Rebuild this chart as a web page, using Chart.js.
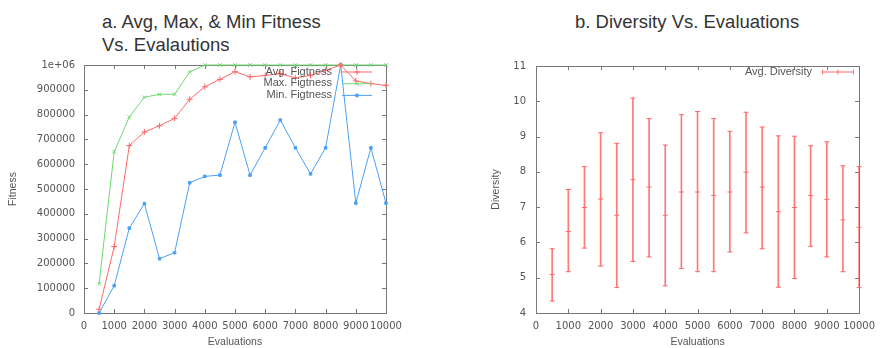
<!DOCTYPE html>
<html>
<head>
<meta charset="utf-8">
<script src="https://cdn.jsdelivr.net/npm/chart.js@4.4.1/dist/chart.umd.min.js"></script>
<style>
  html, body { margin: 0; padding: 0; background: #fff; }
  #wrap { position: relative; width: 882px; height: 348px; overflow: hidden; }
  .ttl { position: absolute; font: 18.5px "Liberation Sans", Arial, sans-serif; color: #333; line-height: 23px; white-space: nowrap; }
  .box { position: absolute; top: 50px; width: 441px; height: 298px; }
</style>
</head>
<body>
<div id="wrap">
  <div class="ttl" style="left:102px; top:10px;">a. Avg, Max, &amp; Min Fitness<br>Vs. Evalautions</div>
  <div class="ttl" style="left:575px; top:10px;">b. Diversity Vs. Evaluations</div>
  <div class="box" style="left:0;"><canvas id="fit"></canvas></div>
  <div class="box" style="left:441px;"><canvas id="div"></canvas></div>
</div>
<script>
// evaluations (x values shared by both charts)
const evals = [500, 1000, 1500, 2000, 2500, 3000, 3500, 4000, 4500, 5000,
               5500, 6000, 6500, 7000, 7500, 8000, 8500, 9000, 9500, 10000];

// chart a: fitness
const avgFitness = [15000, 268000, 675000, 730000, 755000, 785000, 862000, 912000, 942000, 973000,
                    952000, 958000, 965000, 948000, 958000, 978000, 1000000, 936000, 925000, 918000];
const maxFitness = [118000, 650000, 790000, 870000, 882000, 882000, 972000, 1000000, 1000000, 1000000,
                    1000000, 1000000, 1000000, 1000000, 1000000, 1000000, 1000000, 1000000, 1000000, 1000000];
const minFitness = [0, 110000, 342000, 441000, 219000, 243000, 525000, 551000, 556000, 769000,
                    556000, 666000, 778000, 666000, 561000, 666000, 1000000, 443000, 666000, 443000];

// chart b: diversity (mean with low/high whiskers)
const divMean = [5.09, 6.31, 6.99, 7.23, 6.77, 7.78, 7.57, 6.77, 7.43, 7.43,
                 7.33, 7.43, 7.99, 7.57, 6.87, 6.99, 7.33, 7.22, 6.64, 6.43];
const divLow  = [4.34, 5.17, 5.84, 5.33, 4.72, 5.46, 5.59, 4.77, 5.26, 5.17,
                 5.17, 5.73, 6.27, 5.82, 4.73, 4.98, 5.89, 5.59, 5.17, 4.72];
const divHigh = [5.82, 7.50, 8.15, 9.11, 8.81, 10.09, 9.51, 8.76, 9.62, 9.71,
                 9.51, 9.15, 9.69, 9.27, 9.02, 9.01, 8.74, 8.85, 8.17, 8.15];

const RED = 'rgb(255,105,105)';
const GREEN = 'rgb(110,215,110)';
const BLUE = 'rgb(75,160,245)';
const tickFont = { family: 'DejaVu Sans', size: 10 };
const labFont = { family: 'Liberation Sans', size: 10.5 };

Chart.defaults.animation = false;
Chart.defaults.color = '#555';

const pts = ys => evals.map((x, i) => ({ x, y: ys[i] }));

// gnuplot-like box with inward ticks on all four sides
const frame = {
  id: 'frame',
  beforeDatasetsDraw(chart) {
    const { ctx, chartArea: a, scales } = chart;
    ctx.save();
    ctx.strokeStyle = '#777';
    ctx.lineWidth = 1;
    ctx.strokeRect(Math.round(a.left) + 0.5, Math.round(a.top) + 0.5, Math.round(a.width), Math.round(a.height));
    ctx.beginPath();
    scales.x.ticks.forEach(t => {
      const px = Math.round(scales.x.getPixelForValue(t.value)) + 0.5;
      ctx.moveTo(px, a.bottom); ctx.lineTo(px, a.bottom - 4);
      ctx.moveTo(px, a.top); ctx.lineTo(px, a.top + 4);
    });
    scales.y.ticks.forEach(t => {
      const py = Math.round(scales.y.getPixelForValue(t.value)) + 0.5;
      ctx.moveTo(a.left, py); ctx.lineTo(a.left + 4, py);
      ctx.moveTo(a.right, py); ctx.lineTo(a.right - 4, py);
    });
    ctx.stroke();
    ctx.restore();
  }
};

// legend inside the plot: text right-aligned, sample line to its right
const inset = {
  id: 'inset',
  afterDatasetsDraw(chart, args, opts) {
    if (!opts.items) return;
    const ctx = chart.ctx;
    ctx.save();
    ctx.font = '11px "Liberation Sans"';
    ctx.textAlign = 'right';
    ctx.textBaseline = 'middle';
    opts.items.forEach((it, i) => {
      const y = opts.top + i * opts.gap;
      ctx.fillStyle = '#555';
      ctx.fillText(it.text, opts.textRight, y);
      const x0 = opts.lineLeft, x1 = opts.lineLeft + opts.lineLen, xm = (x0 + x1) / 2;
      ctx.strokeStyle = it.color;
      ctx.fillStyle = it.color;
      ctx.lineWidth = 1;
      ctx.beginPath();
      ctx.moveTo(x0, y + 0.5); ctx.lineTo(x1, y + 0.5);
      if (it.bars) {
        [x0, xm, x1].forEach(x => { ctx.moveTo(x + 0.5, y - 2); ctx.lineTo(x + 0.5, y + 3); });
      }
      ctx.stroke();
      if (it.style) {
        Chart.helpers.drawPoint(ctx, { pointStyle: it.style, radius: it.radius || 3, rotation: 0, borderWidth: 1 }, xm, y + 0.5);
      }
    });
    ctx.restore();
  }
};

function lineSet(label, ys, color, style, radius) {
  return {
    label, data: pts(ys), borderColor: color, backgroundColor: color,
    borderWidth: 1, pointStyle: style, pointRadius: radius, pointBorderWidth: 1,
    tension: 0, clip: 8
  };
}

const plainTick = v => String(v);

new Chart(document.getElementById('fit'), {
  type: 'line',
  data: {
    datasets: [
      lineSet('Avg. Figtness', avgFitness, RED, 'cross', 3),
      lineSet('Max. Figtness', maxFitness, GREEN, 'crossRot', 2.5),
      lineSet('Min. Figtness', minFitness, BLUE, 'rect', 1.8)
    ]
  },
  options: {
    responsive: true,
    maintainAspectRatio: false,
    layout: { padding: { top: 13, right: 55, left: 0, bottom: 0 } },
    plugins: {
      legend: { display: false },
      tooltip: { enabled: false },
      inset: {
        top: 21.5, gap: 11.7, textRight: 332, lineLeft: 342, lineLen: 30,
        items: [
          { text: 'Avg. Figtness', color: RED, style: 'cross', radius: 3 },
          { text: 'Max. Figtness', color: GREEN, style: 'crossRot', radius: 2.5 },
          { text: 'Min. Figtness', color: BLUE, style: 'rect', radius: 1.8 }
        ]
      }
    },
    scales: {
      x: {
        type: 'linear', min: 0, max: 10000,
        grid: { display: false, drawTicks: false }, border: { display: false },
        ticks: { stepSize: 1000, autoSkip: false, maxRotation: 0, font: tickFont, padding: 7, callback: plainTick },
        title: { display: true, text: 'Evaluations', font: labFont, padding: { top: 2, bottom: 0 } },
        afterFit(s) { s.height = 35; }
      },
      y: {
        min: 0, max: 1000000,
        grid: { display: false, drawTicks: false }, border: { display: false },
        ticks: {
          stepSize: 100000, font: tickFont, padding: 9,
          callback: v => v === 1000000 ? '1e+06' : String(v)
        },
        title: { display: true, text: 'Fitness', font: labFont, padding: { top: 7, bottom: 0 } },
        afterFit(s) { s.width = 84; }
      }
    }
  },
  plugins: [frame, inset]
});

new Chart(document.getElementById('div'), {
  type: 'bar',
  data: {
    datasets: [
      {
        type: 'bar', label: 'range',
        data: evals.map((x, i) => ({ x, y: [divLow[i], divHigh[i]] })),
        backgroundColor: 'rgba(255,105,105,0.9)', barThickness: 1, borderWidth: 0
      },
      {
        type: 'scatter', label: 'Avg. Diversity', data: pts(divMean),
        borderColor: RED, backgroundColor: RED, pointStyle: 'line', pointRadius: 2.5, pointBorderWidth: 1, clip: 8
      },
      {
        type: 'scatter', label: 'low', data: pts(divLow),
        borderColor: RED, backgroundColor: RED, pointStyle: 'line', pointRadius: 2.5, pointBorderWidth: 1, clip: 8
      },
      {
        type: 'scatter', label: 'high', data: pts(divHigh),
        borderColor: RED, backgroundColor: RED, pointStyle: 'line', pointRadius: 2.5, pointBorderWidth: 1, clip: 8
      }
    ]
  },
  options: {
    responsive: true,
    maintainAspectRatio: false,
    layout: { padding: { top: 13, right: 16, left: 42, bottom: 0 } },
    plugins: {
      legend: { display: false },
      tooltip: { enabled: false },
      inset: {
        top: 21.5, gap: 12, textRight: 371, lineLeft: 381, lineLen: 31,
        items: [{ text: 'Avg. Diversity', color: RED, bars: true }]
      }
    },
    scales: {
      x: {
        type: 'linear', min: 0, max: 10000, offset: false,
        grid: { display: false, offset: false, drawTicks: false }, border: { display: false },
        ticks: { stepSize: 1000, autoSkip: false, maxRotation: 0, font: tickFont, padding: 7, callback: plainTick },
        title: { display: true, text: 'Evaluations', font: labFont, padding: { top: 2, bottom: 0 } },
        afterFit(s) { s.height = 35; }
      },
      y: {
        min: 4, max: 11,
        grid: { display: false, drawTicks: false }, border: { display: false },
        ticks: { stepSize: 1, font: tickFont, padding: 10 },
        title: { display: true, text: 'Diversity', font: labFont, padding: { top: 7, bottom: 0 } },
        afterFit(s) { s.width = 53; }
      }
    }
  },
  plugins: [frame, inset]
});
</script>
</body>
</html>
